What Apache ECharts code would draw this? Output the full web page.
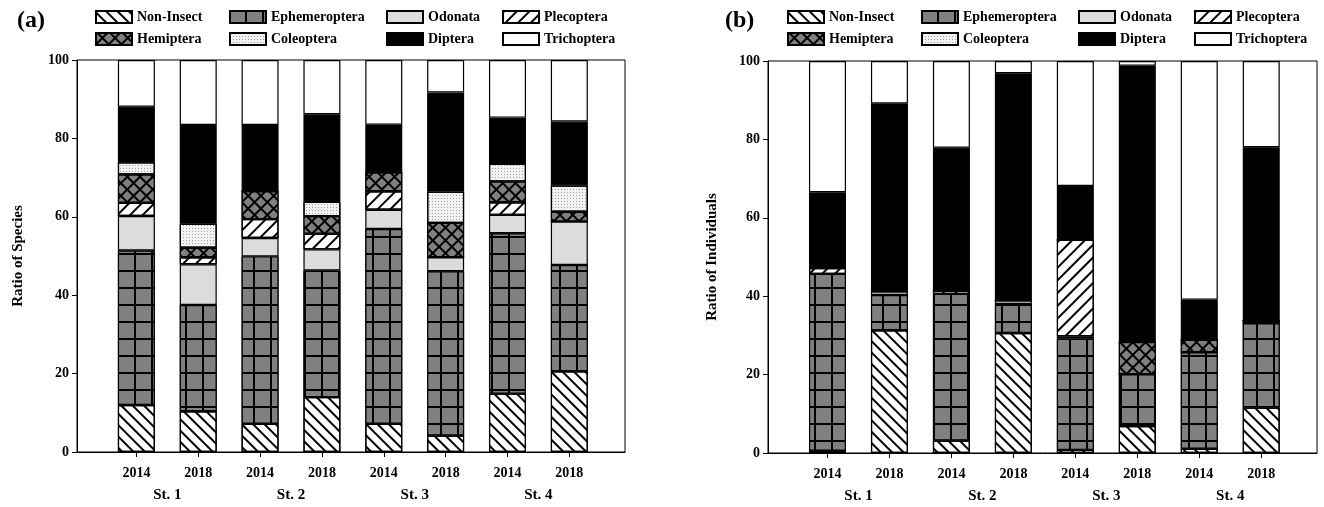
<!DOCTYPE html>
<html>
<head>
<meta charset="utf-8">
<title>Ratio of Species and Individuals by Taxon</title>
<script src="https://cdn.jsdelivr.net/npm/echarts@6/dist/echarts.min.js"></script>
<style>
  html, body { margin: 0; padding: 0; background: #fff; }
  #chart { width: 1324px; height: 507px; }
</style>
</head>
<body>
<div id="chart"></div>
<script>
// Sampling years per station and the station names
const years = ['2014', '2018', '2014', '2018', '2014', '2018', '2014', '2018'];
const stations = ['St. 1', 'St. 2', 'St. 3', 'St. 4'];
const taxa = ['Non-Insect', 'Ephemeroptera', 'Odonata', 'Plecoptera',
              'Hemiptera', 'Coleoptera', 'Diptera', 'Trichoptera'];

// (a) Ratio of species (%), per taxon, St.1 2014 ... St.4 2018
const spNonInsect     = [12.0, 10.4,  7.2, 14.0,  7.2,  4.2, 14.9, 20.6];
const spEphemeroptera = [39.4, 27.1, 42.7, 32.3, 49.7, 41.9, 40.9, 27.1];
const spOdonata       = [ 8.8, 10.4,  4.7,  5.4,  4.9,  3.6,  4.7, 11.1];
const spPlecoptera    = [ 3.4,  1.8,  4.8,  4.0,  4.7,  0.0,  3.2,  0.0];
const spHemiptera     = [ 7.2,  2.4,  7.1,  4.45, 4.8,  8.75, 5.3,  2.5];
const spColeoptera    = [ 3.1,  6.1,  0.0,  3.65, 0.0,  7.95, 4.5,  6.7];
const spDiptera       = [14.2, 25.2, 16.9, 22.35, 12.2, 25.3, 11.8, 16.3];
const spTrichoptera   = [11.9, 16.6, 16.6, 13.85, 16.5,  8.3, 14.7, 15.7];

// (b) Ratio of individuals (%), per taxon
const indNonInsect     = [ 0.6, 31.3,  3.2, 30.6,  0.8,  6.9,  1.1, 11.6];
const indEphemeroptera = [45.1,  9.0, 37.4,  7.4, 28.4, 13.2, 24.6, 21.5];
const indOdonata       = [ 0.0,  0.9,  0.0,  0.9,  0.6,  0.0,  0.0,  0.0];
const indPlecoptera    = [ 1.5,  0.0,  0.8,  0.0, 24.6,  0.0,  0.0,  0.6];
const indHemiptera     = [ 0.0,  0.0,  0.0,  0.0,  0.0,  8.2,  3.2,  0.0];
const indColeoptera    = [ 0.0,  0.0,  0.0,  0.0,  0.0,  0.0,  0.0,  0.0];
const indDiptera       = [19.3, 48.0, 36.5, 58.0, 13.7, 70.5, 10.2, 44.3];
const indTrichoptera   = [33.5, 10.8, 22.1,  3.1, 31.9,  1.2, 60.9, 22.0];

const speciesSets = [spNonInsect, spEphemeroptera, spOdonata, spPlecoptera,
                     spHemiptera, spColeoptera, spDiptera, spTrichoptera];
const individualSets = [indNonInsect, indEphemeroptera, indOdonata, indPlecoptera,
                        indHemiptera, indColeoptera, indDiptera, indTrichoptera];

const FONT = '"Liberation Serif", "Times New Roman", serif';
const positions = years.map((_, i) => i + 1);
const stationPositions = stations.map((_, i) => 2 * i + 1.5);

// Fill patterns for each taxon (black-and-white print style)
const taxonStyles = [
  { color: '#ffffff', decal: { symbol: 'rect', symbolSize: 1, color: '#000', dashArrayX: [1, 0], dashArrayY: [1.5, 5.2], rotation: Math.PI / 4 } },
  { color: '#000000', decal: { symbol: 'rect', symbolSize: 1, color: '#808080', dashArrayX: [15, 2], dashArrayY: [15, 2], rotation: 0 } },
  { color: '#dcdcdc' },
  { color: '#ffffff', decal: { symbol: 'rect', symbolSize: 1, color: '#000', dashArrayX: [1, 0], dashArrayY: [1.7, 7], rotation: -Math.PI / 4 } },
  { color: '#000000', decal: { symbol: 'rect', symbolSize: 1, color: '#808080', dashArrayX: [6.5, 1.5], dashArrayY: [6.5, 1.5], rotation: Math.PI / 4 } },
  { color: '#f2f2f2', decal: { symbol: 'rect', symbolSize: 1, color: '#a0a0a0', dashArrayX: [1, 2], dashArrayY: [1, 2], rotation: 0 } },
  { color: '#000000' },
  { color: '#ffffff' }
];

// Framed plot areas; the x range leaves a margin slot at both ends
const X_MIN = 0.04, X_MAX = 8.9;
const frames = [
  { left: 77, width: 548, top: 60, bottom: 55 },
  { left: 768, width: 549, top: 61, bottom: 54 }
];
const labelFont = { color: '#000', fontFamily: FONT, fontWeight: 'bold', fontSize: 14 };

const grids = [], xAxes = [], yAxes = [];
frames.forEach((f, g) => {
  // frame grid with visible axes
  grids.push({ left: f.left, width: f.width, top: f.top, bottom: f.bottom,
               show: true, borderColor: '#000', borderWidth: 1 });
  // bar grid covering positions 0.5 .. 8.5 of the frame's x range
  const unit = f.width / (X_MAX - X_MIN);
  const barLeft = f.left + (0.5 - X_MIN) * unit;
  const barWidthTotal = years.length * unit;
  grids.push({ left: barLeft, width: barWidthTotal, top: f.top, bottom: f.bottom, show: false });

  const fg = g * 2, bg = g * 2 + 1;
  xAxes.push({
    type: 'value', gridIndex: fg, min: X_MIN, max: X_MAX,
    axisLine: { lineStyle: { color: '#000', width: 1 } },
    axisTick: { show: true, length: 5, customValues: positions, lineStyle: { color: '#000' } },
    axisLabel: Object.assign({ customValues: positions, margin: 14,
      formatter: v => years[Math.round(v) - 1] }, labelFont),
    splitLine: { show: false }
  });
  xAxes.push({
    type: 'value', gridIndex: fg, min: X_MIN, max: X_MAX, position: 'bottom', offset: 22,
    axisLine: { show: false }, axisTick: { show: false },
    axisLabel: Object.assign({ customValues: stationPositions, margin: 14,
      formatter: v => stations[Math.round((v - 1.5) / 2)] }, labelFont, { fontSize: 15 }),
    splitLine: { show: false }
  });
  xAxes.push({
    type: 'category', gridIndex: bg, data: years.map((y, i) => i), boundaryGap: true, show: false
  });
  yAxes.push({
    type: 'value', gridIndex: fg, min: 0, max: 100, interval: 20,
    name: g === 0 ? 'Ratio of Species' : 'Ratio of Individuals',
    nameLocation: 'middle', nameGap: g === 0 ? 51 : 48, nameRotate: 90,
    nameTextStyle: { color: '#000', fontFamily: FONT, fontWeight: 'bold', fontSize: 15 },
    axisLine: { show: true, lineStyle: { color: '#000', width: 1 } },
    axisTick: { show: true, length: 5, lineStyle: { color: '#000' } },
    axisLabel: Object.assign({ margin: 8 }, labelFont),
    splitLine: { show: false }
  });
  yAxes.push({
    type: 'value', gridIndex: bg, min: 0, max: 100, show: false, splitLine: { show: false }
  });
});

const series = [];
[speciesSets, individualSets].forEach((sets, g) => {
  sets.forEach((vals, t) => {
    series.push({
      name: taxa[t], type: 'bar', stack: 'panel' + g,
      xAxisIndex: g * 3 + 2, yAxisIndex: g * 2 + 1, barWidth: 37,
      data: vals,
      itemStyle: Object.assign({ borderColor: '#000', borderWidth: 1.2 }, taxonStyles[t]),
      emphasis: { disabled: true }
    });
  });
});

// Legend: four columns of two entries above each panel
const legendColumns = [[0, 4], [1, 5], [2, 6], [3, 7]];
const legendLefts = [[95, 229, 386, 502], [787, 921, 1078, 1194]];
const legends = [];
legendLefts.forEach(lefts => {
  lefts.forEach((left, c) => {
    legends.push({
      left: left, top: 10, orient: 'vertical', padding: 0,
      itemWidth: 36, itemHeight: 12, itemGap: 8,
      selectedMode: false, icon: 'rect',
      data: legendColumns[c].map(k => taxa[k]),
      textStyle: Object.assign({}, labelFont)
    });
  });
});

const chart = echarts.init(document.getElementById('chart'), null, { renderer: 'canvas' });
chart.setOption({
  animation: false,
  backgroundColor: '#fff',
  title: [
    { text: '(a)', left: 12, top: 4, textStyle: { color: '#000', fontFamily: FONT, fontWeight: 'bold', fontSize: 24 } },
    { text: '(b)', left: 720, top: 4, textStyle: { color: '#000', fontFamily: FONT, fontWeight: 'bold', fontSize: 24 } }
  ],
  legend: legends,
  grid: grids,
  xAxis: xAxes,
  yAxis: yAxes,
  series: series
});
</script>
</body>
</html>
